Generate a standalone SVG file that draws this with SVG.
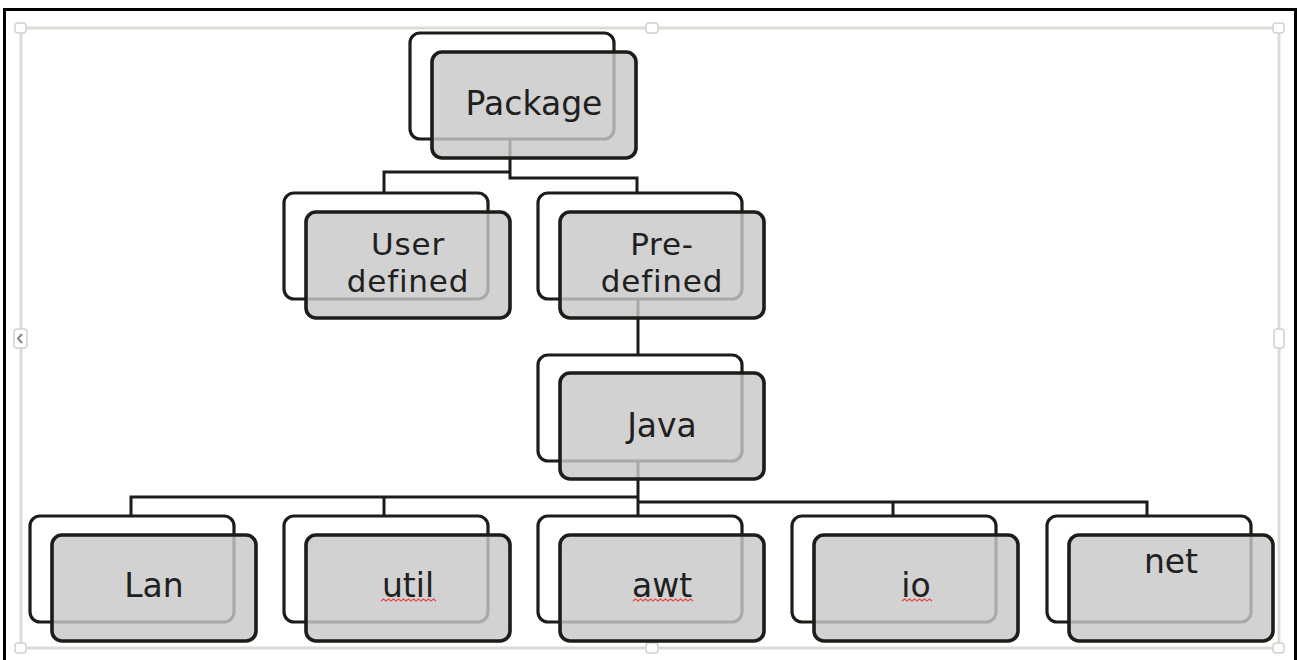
<svg xmlns="http://www.w3.org/2000/svg" width="1299" height="660" viewBox="0 0 1299 660">
<style>
.back{fill:#ffffff;stroke:#1c1c18;stroke-width:3.2}
.front{fill:#c8c8c8;fill-opacity:0.82;stroke:#1c1c18;stroke-width:3.6}
.lbl{font-family:"DejaVu Sans",Verdana,sans-serif;font-size:33px;fill:#202020;text-anchor:middle}
.two{font-size:31px;letter-spacing:0.8px}
.conn{fill:none;stroke:#1c1c18;stroke-width:3}
.frame{fill:none;stroke:#dcdcd6;stroke-width:3}
.handle{fill:#ffffff;stroke:#d2d2cc;stroke-width:1.5}
.sq{fill:none;stroke:#e84848;stroke-width:1.2}
</style>
<defs>
<rect id="b" width="204" height="106" rx="10" class="back"/>
<rect id="f" width="204" height="106" rx="10" class="front"/>
</defs>
<rect x="0" y="0" width="1299" height="660" fill="#ffffff"/>
<rect x="4.5" y="9.5" width="1291" height="680" fill="none" stroke="#000000" stroke-width="3"/>
<g id="selection-frame">
<rect x="21" y="28" width="1258" height="620" class="frame"/>
<rect x="15" y="23" width="11" height="10" rx="3" class="handle"/>
<rect x="646" y="23" width="12" height="10" rx="3" class="handle"/>
<rect x="1273" y="23" width="11" height="10" rx="3" class="handle"/>
<rect x="15" y="643" width="11" height="10" rx="3" class="handle"/>
<rect x="646" y="643" width="12" height="10" rx="3" class="handle"/>
<rect x="1273" y="643" width="11" height="10" rx="3" class="handle"/>
<rect x="14" y="329" width="13" height="19" rx="3" class="handle"/>
<rect x="1274" y="329" width="10" height="19" rx="3" class="handle"/>
<path d="M22 334 L18 338.5 L22 343" fill="none" stroke="#888888" stroke-width="2"/>
</g>
<g id="connectors">
<path class="conn" d="M510 139 V178 H637 V193"/>
<path class="conn" d="M510 172 H384 V193"/>
<path class="conn" d="M638 299 V355"/>
<path class="conn" d="M638 461 V516"/>
<path class="conn" d="M638 497 H131 V516"/>
<path class="conn" d="M384 497 V516"/>
<path class="conn" d="M638 502 H1147 V516"/>
<path class="conn" d="M893 502 V516"/>
</g>
<g id="node-package">
<use href="#b" x="410" y="33"/><use href="#f" x="432" y="52"/>
<text class="lbl" x="534" y="115">Package</text>
</g>
<g id="node-user-defined">
<use href="#b" x="284" y="193"/><use href="#f" x="306" y="212"/>
<text class="lbl two" x="408" y="255">User</text>
<text class="lbl two" x="408" y="292">defined</text>
</g>
<g id="node-pre-defined">
<use href="#b" x="538" y="193"/><use href="#f" x="560" y="212"/>
<text class="lbl two" x="662" y="255">Pre-</text>
<text class="lbl two" x="662" y="292">defined</text>
</g>
<g id="node-java">
<use href="#b" x="538" y="355"/><use href="#f" x="560" y="373"/>
<text class="lbl" x="662" y="437">Java</text>
</g>
<g id="node-lan">
<use href="#b" x="30" y="516"/><use href="#f" x="52" y="535"/>
<text class="lbl" x="154" y="597">Lan</text>
</g>
<g id="node-util">
<use href="#b" x="284" y="516"/><use href="#f" x="306" y="535"/>
<text class="lbl" x="408" y="597">util</text>
<path class="sq" d="M381 601 l2.5 -2 l2.5 2 l2.5 -2 l2.5 2 l2.5 -2 l2.5 2 l2.5 -2 l2.5 2 l2.5 -2 l2.5 2 l2.5 -2 l2.5 2 l2.5 -2 l2.5 2 l2.5 -2 l2.5 2 l2.5 -2 l2.5 2 l2.5 -2 l2.5 2 l2.5 -2 l2.5 2"/>
</g>
<g id="node-awt">
<use href="#b" x="538" y="516"/><use href="#f" x="560" y="535"/>
<text class="lbl" x="662" y="597">awt</text>
<path class="sq" d="M633 601 l2.5 -2 l2.5 2 l2.5 -2 l2.5 2 l2.5 -2 l2.5 2 l2.5 -2 l2.5 2 l2.5 -2 l2.5 2 l2.5 -2 l2.5 2 l2.5 -2 l2.5 2 l2.5 -2 l2.5 2 l2.5 -2 l2.5 2 l2.5 -2 l2.5 2 l2.5 -2 l2.5 2 l2.5 -2 l2.5 2"/>
</g>
<g id="node-io">
<use href="#b" x="792" y="516"/><use href="#f" x="814" y="535"/>
<text class="lbl" x="916" y="597">io</text>
<path class="sq" d="M902 601 l2.5 -2 l2.5 2 l2.5 -2 l2.5 2 l2.5 -2 l2.5 2 l2.5 -2 l2.5 2 l2.5 -2 l2.5 2 l2.5 -2 l2.5 2"/>
</g>
<g id="node-net">
<use href="#b" x="1047" y="516"/><use href="#f" x="1069" y="535"/>
<text class="lbl" x="1171" y="573">net</text>
</g>
</svg>
